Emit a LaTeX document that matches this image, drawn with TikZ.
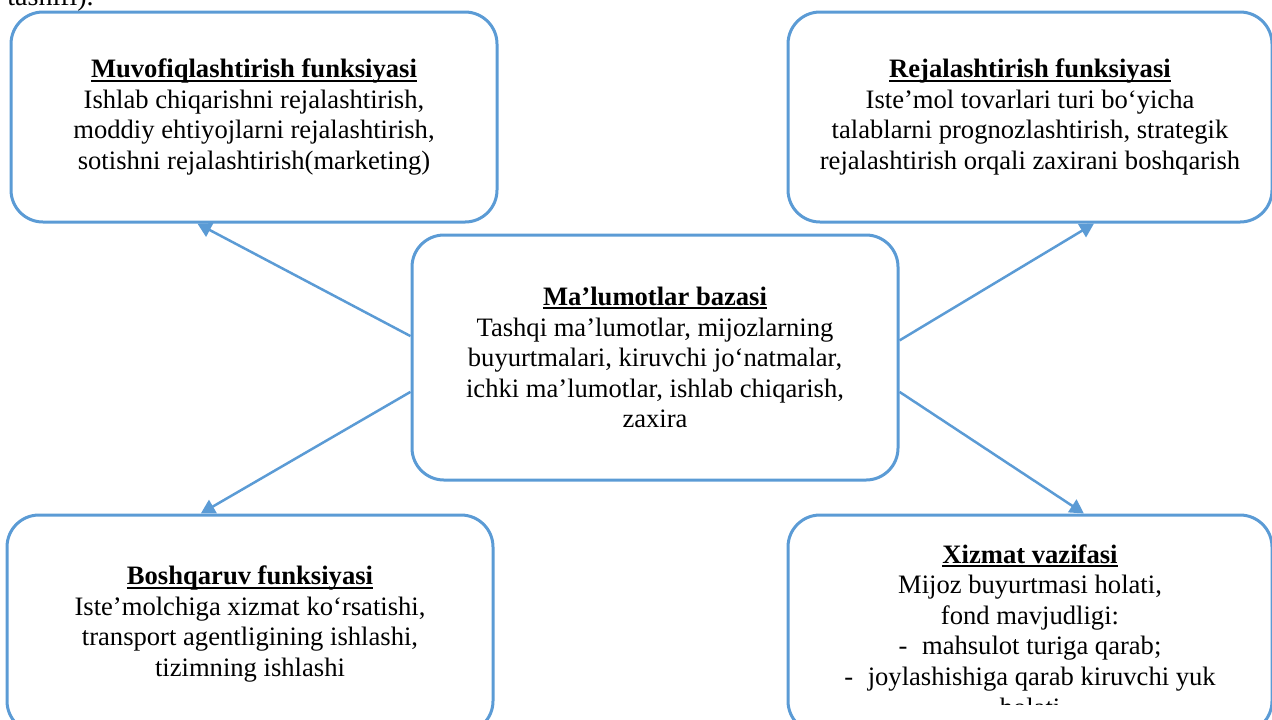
\documentclass[tikz,border=0pt]{standalone}
\usepackage{fontspec}
\setmainfont{Liberation Serif}
\usetikzlibrary{arrows.meta}
\definecolor{boxblue}{RGB}{91,155,213}
\newcommand{\fhead}[1]{\setbox0\hbox{\textbf{#1}}\rlap{\rule[-2pt]{\wd0}{1pt}}\box0}

\begin{document}
\begin{tikzpicture}[x=0.5pt, y=-0.5pt,
    func/.style={rectangle, rounded corners=16pt, draw=boxblue, line width=1.5pt, minimum width=243pt, minimum height=105pt, align=center, font=\fontsize{13.3}{15.3}\selectfont},
    txt/.style={align=center, inner sep=0pt, font=\fontsize{13.3}{15.3}\selectfont},
    arr/.style={-{Triangle[length=7pt, width=7.5pt]}, draw=boxblue, line width=1.25pt}]
    \useasboundingbox (0,0) rectangle (1272,719);
    \node[anchor=base west, inner sep=0pt, font=\fontsize{14}{16}\selectfont] (prev) at (7,5) {tasnifi).};
    \node[func] (coord) at (254,117) {\fhead{Muvofiqlashtirish funksiyasi}\\ Ishlab chiqarishni rejalashtirish,\\ moddiy ehtiyojlarni rejalashtirish,\\ sotishni rejalashtirish(marketing)};
    \node[func, minimum width=242pt] (plan) at (1030,117) {\fhead{Rejalashtirish funksiyasi}\\ Iste’mol tovarlari turi bo‘yicha\\ talablarni prognozlashtirish, strategik\\ rejalashtirish orqali zaxirani boshqarish};
    \node[func, minimum height=122.5pt] (base) at (655,357.5) {\fhead{Ma’lumotlar bazasi}\\ Tashqi ma’lumotlar, mijozlarning\\ buyurtmalari, kiruvchi jo‘natmalar,\\ ichki ma’lumotlar, ishlab chiqarish,\\ zaxira};
    \node[func, minimum height=109pt] (boshq) at (250,624) {\fhead{Boshqaruv funksiyasi}\\ Iste’molchiga xizmat ko‘rsatishi,\\ transport agentligining ishlashi,\\ tizimning ishlashi};
    \node[func, minimum width=242pt, minimum height=109pt] (xizmat) at (1030,624) {};
    \begin{scope}
        \clip (795,520) rectangle (1265,704);
        \node[txt, anchor=north] (xizmattxt) at (1030,544) {\fhead{Xizmat vazifasi}\\ Mijoz buyurtmasi holati,\\ fond mavjudligi:\\ -\hspace{0.55em}mahsulot turiga qarab;\\ -\hspace{0.55em}joylashishiga qarab kiruvchi yuk\\ holati};
    \end{scope}
    \draw[arr] (base.175.4) to (coord.242.8);
    \draw[arr] (base.4.6) to (plan.-59.4);
    \draw[arr] (base.188.3) to (boshq.114.6);
    \draw[arr] (base.-8.5) to (xizmat.64.1);
\end{tikzpicture}
\end{document}
